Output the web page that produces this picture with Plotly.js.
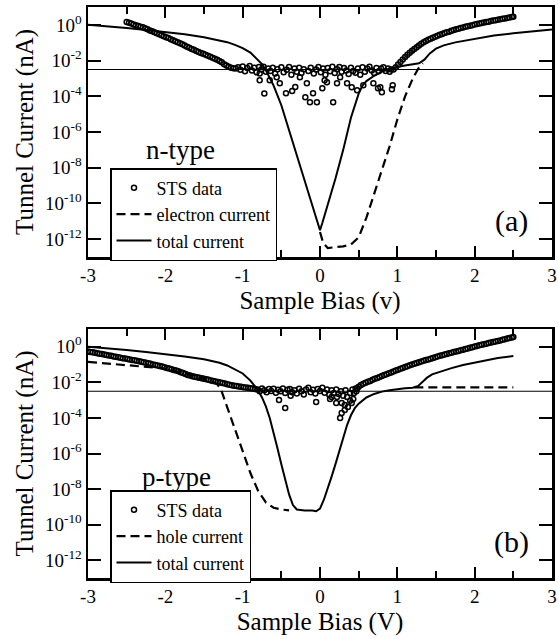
<!DOCTYPE html>
<html>
<head>
<meta charset="utf-8">
<script src="https://cdn.plot.ly/plotly-3.0.1.min.js"></script>
<style>html,body{margin:0;padding:0;background:#fff;}#plot{width:558px;height:639px;}</style>
</head>
<body>
<div id="plot"></div>
<script>
// ---------- data (log10 of current in nA) ----------
const xTickVals = [-3, -2, -1, 0, 1, 2, 3];
const xTickText = ['-3', '-2', '-1', '0', '1', '2', '3'];
const yTickExp = [0, -2, -4, -6, -8, -10, -12];
const refLevelX = [-3, 3];
const refLevelLogI = [-2.5, -2.5];

// panel (a): n-type
const topStsX = [
 -2.50,-2.47,-2.44,-2.41,-2.38,-2.35,-2.32,-2.29,-2.26,-2.23,-2.20,-2.17,-2.14,-2.11,-2.08,-2.05,-2.02,-1.99,-1.96,-1.93,
 -1.90,-1.87,-1.84,-1.81,-1.78,-1.75,-1.72,-1.69,-1.66,-1.63,-1.60,-1.57,-1.54,-1.51,-1.48,-1.45,-1.42,-1.39,-1.36,-1.33,
 -1.30,-1.27,-1.24,-1.21,-1.18,-1.15,-1.12,
 -1.09,-1.06,-1.03,-1.00,-0.97,-0.94,-0.91,-0.88,-0.85,-0.82,-0.79,-0.78,-0.78,-0.76,-0.73,-0.72,-0.70,-0.67,-0.65,-0.64,
 -0.61,-0.58,-0.56,-0.55,-0.52,-0.50,-0.47,-0.44,-0.43,-0.40,-0.37,-0.36,-0.33,-0.32,-0.30,-0.27,-0.26,-0.24,-0.21,-0.19,
 -0.17,-0.15,-0.13,-0.12,-0.09,-0.08,-0.05,-0.04,-0.02,0.01,0.03,0.04,0.06,0.07,0.09,0.10,0.13,0.16,0.17,0.19,
 0.22,0.22,0.25,0.26,0.28,0.31,0.34,0.35,0.37,0.40,0.41,0.43,0.46,0.48,0.49,0.52,0.55,0.56,0.58,0.61,
 0.64,0.67,0.69,0.70,0.73,0.75,0.76,0.78,0.79,0.80,0.82,0.85,0.88,0.90,0.92,0.93,0.94,
 0.95,0.98,1.01,1.04,1.07,1.10,1.13,1.16,1.19,1.22,1.25,1.28,1.31,1.34,1.37,1.40,1.43,1.46,1.49,1.52,
 1.55,1.58,1.61,1.64,1.67,1.70,1.73,1.76,1.79,1.82,1.85,1.88,1.91,1.94,1.97,2.00,2.03,2.06,2.09,2.12,
 2.15,2.18,2.21,2.24,2.27,2.30,2.33,2.36,2.39,2.42,2.45,2.48,2.50
];
const topStsLogI = [
 0.16,0.12,0.08,0.02,-0.02,-0.06,-0.10,-0.14,-0.19,-0.25,-0.31,-0.36,-0.42,-0.47,-0.53,-0.58,-0.64,-0.70,-0.74,-0.80,
 -0.86,-0.92,-0.98,-1.03,-1.09,-1.16,-1.23,-1.28,-1.35,-1.40,-1.46,-1.52,-1.58,-1.62,-1.68,-1.73,-1.78,-1.84,-1.90,-1.96,
 -2.02,-2.10,-2.20,-2.28,-2.35,-2.40,-2.43,
 -2.45,-2.38,-2.52,-2.33,-2.60,-2.42,-2.30,-2.55,-2.40,-2.66,-2.36,-3.10,-2.72,-2.50,-2.35,-3.85,-2.62,-2.44,-3.10,-2.58,
 -2.40,-2.72,-2.93,-2.48,-3.27,-2.38,-2.66,-3.83,-2.52,-2.36,-2.80,-3.70,-2.45,-3.48,-2.62,-2.40,-2.93,-2.70,-2.48,-4.06,
 -3.27,-2.58,-4.34,-2.40,-3.83,-2.72,-2.50,-4.34,-2.36,-2.65,-3.55,-2.45,-3.10,-2.80,-3.21,-2.42,-2.60,-2.35,-4.34,-2.70,
 -3.27,-2.48,-2.36,-2.93,-2.62,-2.42,-2.55,-3.27,-2.75,-2.40,-3.49,-2.58,-2.68,-3.66,-2.45,-2.80,-2.38,-3.38,-2.62,-2.45,
 -2.34,-2.55,-3.27,-2.70,-2.42,-3.55,-2.60,-3.49,-2.45,-3.78,-2.38,-2.58,-2.45,-2.62,-2.50,-3.60,-3.38,
 -2.50,-2.38,-2.22,-2.08,-1.94,-1.80,-1.67,-1.56,-1.45,-1.35,-1.25,-1.15,-1.06,-0.98,-0.91,-0.84,-0.78,-0.72,-0.66,-0.61,
 -0.56,-0.51,-0.46,-0.42,-0.38,-0.33,-0.29,-0.25,-0.22,-0.18,-0.15,-0.11,-0.08,-0.05,-0.02,0.02,0.05,0.08,0.11,0.13,
 0.16,0.18,0.21,0.24,0.26,0.29,0.31,0.34,0.36,0.39,0.41,0.44,0.46
];
const topElecX = [0.00, 0.04, 0.10, 0.20, 0.30, 0.40, 0.50, 0.60, 0.70, 0.80, 0.90, 1.00, 1.10, 1.20, 1.27, 1.33];
const topElecLogI = [-11.6, -12.2, -12.5, -12.45, -12.4, -12.3, -11.9, -10.8, -9.5, -8.2, -6.8, -5.3, -4.0, -3.0, -2.45, -2.15];
const topTotalX = [-3.0, -2.75, -2.5, -2.25, -2.0, -1.75, -1.5, -1.3, -1.2, -1.1, -1.0, -0.9, -0.8, -0.75, -0.7, -0.65, -0.6, -0.55, -0.5,
 -0.4, -0.3, -0.2, -0.1, -0.03, 0.0, 0.03, 0.1, 0.2, 0.3, 0.4, 0.5, 0.55, 0.6, 0.7, 0.8, 0.9, 1.0, 1.1, 1.2, 1.28, 1.35,
 1.42, 1.5, 1.6, 1.75, 2.0, 2.25, 2.5, 2.75, 3.0];
const topTotalLogI = [0.0, -0.08, -0.18, -0.29, -0.40, -0.53, -0.69, -0.85, -0.97, -1.12, -1.30, -1.55, -1.95, -2.2, -2.54, -2.95, -3.4, -3.95, -4.5,
 -5.9, -7.3, -8.7, -10.1, -11.2, -11.5, -11.1, -10.1, -8.6, -7.0, -5.2, -3.85, -3.4, -3.15, -2.85, -2.62, -2.47, -2.36, -2.28, -2.22, -2.15, -1.95,
 -1.6, -1.33, -1.15, -0.98, -0.77, -0.6, -0.47, -0.36, -0.26];

// panel (b): p-type
const botStsX = [
 -3.00,-2.97,-2.94,-2.91,-2.88,-2.85,-2.82,-2.79,-2.76,-2.73,-2.70,-2.67,-2.64,-2.61,-2.58,-2.55,-2.52,-2.49,-2.46,-2.43,
 -2.40,-2.37,-2.34,-2.31,-2.28,-2.25,-2.22,-2.19,-2.16,-2.13,-2.10,-2.07,-2.04,-2.01,-1.98,-1.95,-1.92,-1.89,-1.86,-1.83,
 -1.80,-1.77,-1.74,-1.71,-1.68,-1.65,-1.62,-1.59,-1.56,-1.53,-1.50,-1.47,-1.44,-1.41,-1.38,-1.35,-1.32,-1.29,-1.26,-1.23,
 -1.20,-1.17,-1.14,-1.11,-1.08,-1.05,-1.02,-0.99,-0.96,-0.93,-0.90,-0.87,-0.84,
 -0.81,-0.78,-0.75,-0.72,-0.69,-0.66,-0.63,-0.60,-0.57,-0.53,-0.54,-0.51,-0.48,-0.45,-0.45,-0.42,-0.38,-0.39,-0.36,-0.33,
 -0.30,-0.27,-0.24,-0.21,-0.18,-0.15,-0.12,-0.09,-0.05,-0.06,-0.03,0.00,0.03,0.06,0.09,0.12,0.13,0.15,0.15,0.18,
 0.21,0.22,0.21,0.24,0.26,0.28,0.28,0.27,0.30,0.32,0.32,0.33,0.35,0.36,0.39,0.39,0.41,0.43,0.42,0.44,0.46,0.47,
 0.48,0.50,0.53,0.56,0.59,0.62,0.65,0.68,0.71,0.74,0.77,
 0.80,0.83,0.86,0.89,0.92,0.95,0.98,1.01,1.04,1.07,1.10,1.13,1.16,1.19,1.22,1.25,1.28,1.31,1.34,1.37,
 1.40,1.43,1.46,1.49,1.52,1.55,1.58,1.61,1.64,1.67,1.70,1.73,1.76,1.79,1.82,1.85,1.88,1.91,1.94,1.97,
 2.00,2.03,2.06,2.09,2.12,2.15,2.18,2.21,2.24,2.27,2.30,2.33,2.36,2.39,2.42,2.45,2.48,2.50
];
const botStsLogI = [
 -0.27,-0.29,-0.31,-0.34,-0.36,-0.39,-0.41,-0.44,-0.46,-0.49,-0.51,-0.54,-0.56,-0.59,-0.61,-0.64,-0.66,-0.69,-0.71,-0.74,
 -0.76,-0.79,-0.82,-0.84,-0.87,-0.90,-0.93,-0.96,-0.99,-1.02,-1.05,-1.08,-1.11,-1.15,-1.19,-1.22,-1.26,-1.30,-1.34,-1.38,
 -1.43,-1.48,-1.53,-1.58,-1.62,-1.65,-1.68,-1.71,-1.74,-1.77,-1.80,-1.83,-1.86,-1.89,-1.92,-1.95,-1.98,-2.01,-2.04,-2.07,
 -2.10,-2.13,-2.16,-2.19,-2.21,-2.23,-2.25,-2.27,-2.29,-2.31,-2.33,-2.35,-2.37,
 -2.40,-2.50,-2.35,-2.45,-2.55,-2.38,-2.48,-2.36,-2.58,-2.99,-2.42,-2.50,-2.35,-3.44,-2.60,-2.42,-2.76,-2.38,-2.55,-2.45,
 -2.62,-2.36,-2.50,-2.68,-2.40,-2.30,-2.55,-2.42,-3.10,-2.62,-2.38,-2.48,-2.30,-2.58,-2.40,-2.70,-2.93,-2.82,-2.45,-2.60,
 -3.16,-2.82,-2.40,-2.65,-4.00,-3.72,-3.16,-2.50,-2.75,-3.55,-3.27,-2.45,-2.82,-3.38,-3.04,-2.60,-3.16,-2.93,-2.40,-2.60,-2.35,-2.50,
 -2.35,-2.25,-2.15,-2.08,-2.02,-1.97,-1.92,-1.86,-1.80,-1.75,-1.70,
 -1.64,-1.59,-1.54,-1.49,-1.44,-1.39,-1.34,-1.29,-1.24,-1.19,-1.14,-1.09,-1.04,-0.99,-0.95,-0.91,-0.87,-0.83,-0.79,-0.75,
 -0.71,-0.67,-0.63,-0.59,-0.55,-0.51,-0.47,-0.44,-0.40,-0.37,-0.33,-0.30,-0.26,-0.23,-0.19,-0.16,-0.12,-0.09,-0.06,-0.02,
 0.01,0.04,0.08,0.11,0.14,0.17,0.21,0.24,0.27,0.30,0.33,0.36,0.40,0.43,0.46,0.49,0.52,0.55
];
const botHoleX = [-3.0, -2.8, -2.6, -2.4, -2.2, -2.0, -1.8, -1.6, -1.5, -1.4, -1.33, -1.28, -1.24, -1.2, -1.1, -1.0, -0.9, -0.8, -0.7, -0.6, -0.5, -0.4,
 null, 1.22, 1.4, 1.6, 1.8, 2.0, 2.2, 2.5];
const botHoleLogI = [-0.85, -0.92, -0.99, -1.06, -1.13, -1.22, -1.45, -1.70, -1.80, -1.92, -2.1, -2.4, -2.9, -3.4, -4.6, -5.85, -7.1, -8.1, -8.75, -9.05, -9.15, -9.2,
 null, -2.28, -2.28, -2.28, -2.28, -2.28, -2.28, -2.28];
const botTotalX = [-3.0, -2.75, -2.5, -2.25, -2.0, -1.75, -1.5, -1.3, -1.2, -1.1, -1.0, -0.9, -0.85, -0.8, -0.75, -0.7, -0.65, -0.6, -0.55, -0.5,
 -0.45, -0.4, -0.35, -0.3, -0.2, -0.1, -0.05, 0.0, 0.05, 0.1, 0.15, 0.2, 0.25, 0.3, 0.35, 0.4, 0.45, 0.5, 0.6, 0.7, 0.8, 0.9,
 1.0, 1.1, 1.2, 1.27, 1.32, 1.38, 1.45, 1.55, 1.7, 1.85, 2.0, 2.16, 2.3, 2.5];
const botTotalLogI = [0.0, -0.08, -0.18, -0.29, -0.40, -0.55, -0.70, -0.90, -1.05, -1.28, -1.5, -1.9, -2.15, -2.45, -2.85, -3.35, -4.0, -4.8, -5.7, -6.6,
 -7.5, -8.3, -8.9, -9.15, -9.2, -9.2, -9.25, -9.1, -8.6, -8.0, -7.3, -6.6, -5.9, -5.1, -4.4, -3.85, -3.45, -3.2, -2.85, -2.65, -2.52, -2.44,
 -2.37, -2.33, -2.3, -2.2, -2.0, -1.75, -1.55, -1.4, -1.2, -1.02, -0.9, -0.74, -0.63, -0.52];

// ---------- drawing ----------
const toNA = a => a.map(v => (v === null ? null : Math.pow(10, v)));
const FONT = 'Liberation Serif';

const stsMarker = {symbol: 'circle-open', size: 5, color: 'black', line: {width: 1.5, color: 'black'}};
const solid = {color: 'black', width: 2};
const dashed = {color: 'black', width: 2.2, dash: '9px,5px'};

const traces = [
  {x: topStsX, y: toNA(topStsLogI), mode: 'markers', name: 'STS data', marker: stsMarker, xaxis: 'x', yaxis: 'y', legend: 'legend'},
  {x: topElecX, y: toNA(topElecLogI), mode: 'lines', name: 'electron current', line: dashed, xaxis: 'x', yaxis: 'y', legend: 'legend'},
  {x: topTotalX, y: toNA(topTotalLogI), mode: 'lines', name: 'total current', line: solid, xaxis: 'x', yaxis: 'y', legend: 'legend'},
  {x: refLevelX, y: toNA(refLevelLogI), mode: 'lines', line: {color: 'black', width: 1.2}, showlegend: false, hoverinfo: 'skip', xaxis: 'x', yaxis: 'y'},

  {x: botStsX, y: toNA(botStsLogI), mode: 'markers', name: 'STS data', marker: stsMarker, xaxis: 'x2', yaxis: 'y2', legend: 'legend2'},
  {x: botHoleX, y: toNA(botHoleLogI), mode: 'lines', name: 'hole current', line: dashed, connectgaps: false, xaxis: 'x2', yaxis: 'y2', legend: 'legend2'},
  {x: botTotalX, y: toNA(botTotalLogI), mode: 'lines', name: 'total current', line: solid, xaxis: 'x2', yaxis: 'y2', legend: 'legend2'},
  {x: refLevelX, y: toNA(refLevelLogI), mode: 'lines', line: {color: 'black', width: 1.2}, showlegend: false, hoverinfo: 'skip', xaxis: 'x2', yaxis: 'y2'}
];

const W = 558, H = 639;
const xDom = [88 / W, 552 / W];
const topDom = [1 - 257 / H, 1 - 7 / H];
const botDom = [1 - 578 / H, 1 - 329 / H];

function xAxis(titleText, anchor) {
  return {
    domain: xDom, anchor: anchor, range: [-3, 3],
    tickmode: 'array', tickvals: xTickVals, ticktext: xTickText,
    ticks: 'inside', ticklen: 11, tickwidth: 2, tickcolor: 'black',
    minor: {dtick: 0.5, tick0: 0, ticks: 'inside', ticklen: 7, tickwidth: 2, tickcolor: 'black', showgrid: false},
    showline: true, linewidth: 2.5, linecolor: 'black', mirror: 'allticks',
    showgrid: false, zeroline: false,
    tickfont: {family: FONT, size: 19, color: 'black'},
    title: {text: titleText, font: {family: FONT, size: 25, color: 'black'}, standoff: 6}
  };
}
function yAxis(anchor, dom) {
  return {
    domain: dom, anchor: anchor, type: 'log', range: [-13, 1],
    tickmode: 'array', tickvals: yTickExp.map(e => Math.pow(10, e)),
    ticktext: yTickExp.map(e => '10<sup>' + e + '</sup>'),
    ticks: 'inside', ticklen: 13, tickwidth: 2, tickcolor: 'black',
    showline: true, linewidth: 2.5, linecolor: 'black', mirror: 'allticks',
    showgrid: false, zeroline: false,
    tickfont: {family: FONT, size: 19, color: 'black'},
    title: {text: 'Tunnel Current (nA)', font: {family: FONT, size: 25, color: 'black'}, standoff: 4}
  };
}

function legendAt(top) {
  return {
    x: 110 / W, y: 1 - top / H,
    xref: 'paper', yref: 'paper', xanchor: 'left', yanchor: 'top',
    bgcolor: 'white', bordercolor: 'black', borderwidth: 1.5,
    itemwidth: 35, tracegroupgap: 0,
    font: {family: FONT, size: 18, color: 'black'}
  };
}

const layout = {
  width: W, height: H,
  margin: {l: 0, r: 0, t: 0, b: 0},
  paper_bgcolor: 'white', plot_bgcolor: 'white',
  font: {family: FONT, size: 19, color: 'black'},
  xaxis: xAxis('Sample Bias (v)', 'y'),
  yaxis: yAxis('x', topDom),
  xaxis2: xAxis('Sample Bias (V)', 'y2'),
  yaxis2: yAxis('x2', botDom),
  legend: legendAt(168),
  legend2: legendAt(490),
  annotations: [
    {xref: 'x', yref: 'y', x: -1.8, y: -7.0, text: 'n-type', showarrow: false, font: {family: FONT, size: 27, color: 'black'}},
    {xref: 'x', yref: 'y', x: 2.48, y: -11.0, text: '(a)', showarrow: false, font: {family: FONT, size: 30, color: 'black'}},
    {xref: 'x2', yref: 'y2', x: -1.85, y: -7.3, text: 'p-type', showarrow: false, font: {family: FONT, size: 27, color: 'black'}},
    {xref: 'x2', yref: 'y2', x: 2.48, y: -11.0, text: '(b)', showarrow: false, font: {family: FONT, size: 30, color: 'black'}}
  ]
};

Plotly.newPlot('plot', traces, layout, {staticPlot: true, displayModeBar: false});
</script>
</body>
</html>
